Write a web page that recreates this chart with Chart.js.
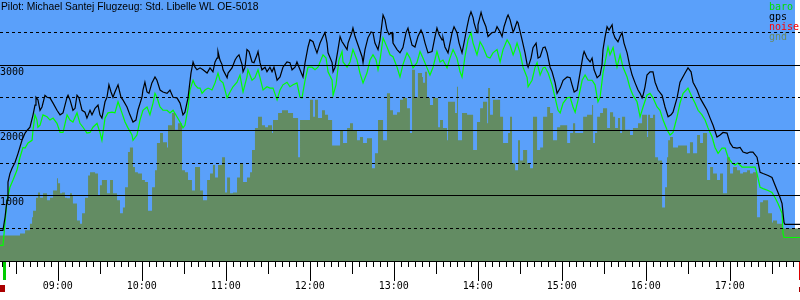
<!DOCTYPE html>
<html><head><meta charset="utf-8">
<script src="https://cdn.jsdelivr.net/npm/chart.js@4.4.1/dist/chart.umd.min.js"></script>
<style>html,body{margin:0;padding:0;background:#fff}#wrap{width:800px;height:300px}</style>
</head><body><div id="wrap"><canvas id="c" width="800" height="300"></canvas></div>
<script>
// ---- texts ----
const titleText = "Pilot: Michael Santej Flugzeug: Std. Libelle WL OE-5018";
const legendLabels = ["baro", "gps", "noise", "gnd"];
// ---- axes (time in minutes after midnight, altitude in m) ----
const timeStart = 498.8, timeEnd = 1070.2, skyEnd = 1066.7;
const hourTicks = [540, 600, 660, 720, 780, 840, 900, 960, 1020];
const altGrid = [0, 500, 1000, 1500, 2000, 2500, 3000, 3500, 4000];
const altLabels = [1000, 2000, 3000];
const logStart = 500.6, takeoff = 502.0, landing = 1070.2;

// ---- gps altitude ----
const gpsTime = [
498.8,500.9,502.4,503.8,504.5,505.9,507.4,509.5,511.7,514.5,
516.7,518.1,520.2,522.4,523.8,524.5,525.9,527.4,528.8,530.9,
532.4,534.5,536.7,539.5,541.7,543.8,546.7,547.4,548.8,550.9,
552.4,553.8,555.2,557.4,559.5,560.9,563.1,564.5,566.7,568.8,
570.2,571.6,573.8,575.2,576.6,578.1,579.5,580.9,583.1,585.2,
586.6,589.5,591.6,593.8,595.9,597.3,600.2,600.9,602.3,603.8,
605.2,607.3,609.5,610.9,613.1,615.2,618.1,620.2,622.4,625.2,
627.4,629.5,630.9,633.1,635.2,636.7,638.1,639.5,641.7,643.8,
646.7,648.8,650.9,652.4,653.8,654.5,655.9,657.4,658.1,661.0,
661.7,664.5,666.7,668.1,669.5,671.7,672.4,673.8,675.2,676.7,
678.8,680.2,682.4,683.1,684.5,685.9,688.1,689.5,691.6,693.1,
694.5,696.7,698.8,700.9,703.8,705.9,707.4,709.5,710.9,713.1,
715.2,716.7,718.8,720.2,722.4,723.8,725.2,727.4,729.5,730.9,
732.4,733.1,736.0,736.7,738.1,740.2,741.7,743.1,743.8,746.7,
747.4,750.2,750.9,752.4,754.5,757.4,758.1,759.5,761.6,763.8,
765.2,766.6,768.8,770.2,771.7,772.4,773.8,775.2,776.7,778.8,
779.5,782.4,784.5,786.6,788.8,790.2,791.6,793.1,795.2,797.3,
799.5,800.9,802.4,804.5,807.4,809.5,810.9,812.4,814.5,815.2,
816.6,818.8,821.7,823.1,825.2,826.7,828.8,830.2,832.4,833.8,
835.2,836.7,837.4,839.5,840.2,842.4,843.8,845.9,847.4,850.2,
852.4,853.8,856.0,857.4,858.8,861.0,861.7,863.1,865.3,866.0,
868.1,868.8,871.7,873.8,875.3,876.0,878.1,879.5,881.7,883.1,
884.6,886.7,888.1,889.6,891.7,893.1,895.3,896.7,898.9,901.0,
903.9,906.0,907.4,908.9,911.0,913.1,915.3,916.0,918.1,920.3,
921.7,923.1,925.3,927.4,928.8,929.5,931.0,932.4,933.8,936.0,
936.7,938.1,940.2,941.7,943.1,944.5,946.7,948.8,950.3,952.4,
954.5,956.0,957.4,958.1,959.5,960.9,963.1,965.2,966.7,968.8,
971.7,973.8,976.0,978.1,979.5,982.4,984.5,988.1,990.2,992.4,
993.8,996.7,998.8,1000.9,1003.8,1006.0,1008.1,1010.9,1013.1,1015.2,
1018.1,1020.2,1022.4,1025.2,1027.4,1029.5,1032.4,1034.5,1036.6,1039.5,
1041.7,1043.8,1047.4,1050.2,1052.4,1054.5,1056.0,1057.4,1058.1,1058.8,
1059.5,1070.2];
const gpsAlt = [
470,470,670,930,1210,1340,1420,1510,1650,1850,
1960,2000,2050,2240,2390,2510,2470,2310,2360,2540,
2510,2500,2420,2310,2240,2270,2510,2540,2470,2310,
2340,2540,2500,2310,2280,2190,2310,2240,2340,2390,
2240,2190,2440,2510,2700,2590,2510,2590,2700,2510,
2470,2360,2240,2130,2160,2310,2510,2620,2740,2590,
2570,2730,2820,2770,2620,2590,2570,2620,2510,2500,
2420,2240,2280,2500,2880,3050,2970,2930,2960,2930,
2880,2960,2900,3050,3110,3210,3080,3010,2930,2810,
2880,2960,3080,3130,3160,3010,2900,2970,3240,3210,
3050,3040,3160,3210,3040,2930,2970,2900,2970,2900,
2970,2770,2820,2970,3050,3040,2930,2970,3050,2930,
2820,3040,3280,3390,3360,3270,3190,3340,3440,3500,
3340,3190,3040,2900,2970,3240,3440,3360,3340,3240,
3340,3510,3570,3440,3310,3130,3040,3240,3420,3510,
3500,3340,3240,3390,3650,3770,3700,3540,3470,3500,
3340,3240,3190,3270,3500,3570,3440,3310,3280,3440,
3540,3470,3340,3190,3210,3440,3570,3470,3390,3420,
3280,3190,3500,3590,3500,3340,3190,3340,3590,3730,
3820,3730,3650,3500,3620,3810,3700,3590,3440,3500,
3510,3590,3510,3440,3590,3740,3770,3700,3510,3540,
3670,3650,3390,3190,3010,2970,3110,3270,3340,3110,
3130,3270,3280,3190,2970,2900,2730,2570,2650,2770,
2820,2810,2700,2590,2620,2880,3160,3210,3110,3050,
3110,2930,2810,2850,3010,3240,3440,3590,3540,3620,
3500,3420,3360,3440,3500,3340,3190,2970,2850,2730,
2620,2570,2500,2540,2670,2850,2900,2900,2740,2620,
2540,2360,2210,2240,2280,2500,2740,2880,2960,2900,
2740,2620,2500,2420,2310,2190,2080,1900,1930,1970,
1960,1810,1740,1730,1740,1670,1650,1670,1670,1590,
1360,1340,1310,1280,1160,1050,970,880,730,590,
560,560];

// ---- barometric altitude ----
const baroTime = [
498.8,500.9,501.7,503.8,505.9,508.1,510.9,513.1,515.2,516.7,
518.8,521.7,522.4,523.8,525.2,525.9,527.4,529.5,532.4,534.5,
536.7,539.5,541.7,543.8,546.7,548.8,550.9,553.8,555.9,558.1,
560.9,563.1,565.2,568.1,570.2,571.6,573.8,575.9,578.8,580.9,
583.1,585.9,588.1,590.2,593.1,593.8,596.6,598.8,600.9,603.8,
605.9,608.1,609.5,610.9,613.1,615.2,618.1,620.2,622.4,625.2,
627.4,629.5,630.9,633.1,634.5,636.7,638.1,640.2,641.7,643.1,
645.2,647.4,650.2,652.4,654.5,655.9,658.1,661.0,663.1,665.2,
668.1,670.2,672.4,675.2,675.9,678.8,680.9,683.1,684.5,686.7,
689.5,691.6,693.8,696.7,698.8,700.9,703.8,705.9,708.1,710.9,
713.1,714.5,716.7,718.8,721.7,723.8,725.9,729.5,731.7,733.1,
736.0,736.7,738.8,740.9,743.1,743.8,746.7,748.8,750.9,753.8,
755.9,758.1,760.9,763.1,765.2,767.4,768.8,770.2,772.4,775.2,
777.4,779.5,782.4,784.5,786.6,789.5,791.6,793.8,796.6,798.8,
800.9,803.8,805.9,808.1,810.9,813.1,815.2,818.1,820.2,822.4,
825.2,827.4,828.8,830.9,833.1,835.2,836.7,839.5,841.7,843.8,
846.7,848.8,850.9,853.8,856.0,858.1,861.0,863.1,865.3,866.7,
868.1,870.3,872.4,875.3,876.0,878.8,881.0,882.4,884.6,886.7,
888.1,890.3,893.1,895.3,897.4,898.9,901.0,903.9,906.0,908.1,
909.6,911.7,914.6,916.7,918.8,921.7,923.8,925.9,927.4,929.5,
931.0,933.1,934.5,936.7,939.5,941.7,943.8,946.7,948.8,950.9,
953.8,956.0,958.1,960.9,963.1,965.2,968.1,970.2,972.4,975.2,
977.4,979.5,982.4,984.5,986.7,990.2,993.1,995.2,997.4,1000.2,
1002.4,1004.5,1007.4,1009.5,1011.7,1014.5,1016.7,1018.8,1021.7,1023.8,
1025.9,1028.8,1034.5,1038.1,1039.5,1041.7,1043.8,1047.4,1050.2,1052.4,
1054.5,1057.4,1058.1,1058.8,1070.2];
const baroAlt = [
240,240,420,930,1130,1240,1390,1590,1740,1730,
1810,1850,2010,2240,2160,2050,2080,2240,2210,2160,
2190,2110,1970,1970,2240,2160,2130,2270,2110,2050,
1960,1970,2050,2110,1970,1850,2190,2270,2280,2270,
2440,2270,2130,2040,1930,1850,1930,2160,2310,2360,
2240,2420,2570,2510,2360,2310,2310,2270,2310,2210,
2130,2040,2080,2340,2620,2770,2700,2650,2650,2570,
2620,2650,2620,2730,2880,2770,2730,2500,2590,2670,
2740,2850,2590,2820,2930,2770,2810,2930,2810,2620,
2670,2650,2650,2470,2620,2700,2740,2670,2700,2730,
2510,2500,2770,2970,2970,2930,2970,3160,3110,2900,
2770,2540,2700,3080,3210,3050,2970,3050,3240,3080,
2880,2730,2880,3080,3160,3080,2930,3080,3420,3280,
3160,3130,2970,2820,3010,3190,3110,2960,3040,3210,
3110,2960,2850,2970,3210,3050,3080,2960,3110,3240,
3110,2900,2820,3130,3390,3500,3340,3160,3360,3280,
3130,3110,3190,3240,3050,3240,3390,3310,3160,3240,
3340,3190,2970,2810,2670,2770,2970,3040,2850,2960,
2970,2880,2700,2500,2310,2270,2420,2500,2510,2360,
2280,2470,2770,2850,2770,2770,2700,2440,2510,2880,
3050,3280,3160,3270,2970,3160,2970,2820,2650,2540,
2440,2210,2360,2540,2570,2500,2360,2310,2160,2010,
1930,1970,2210,2420,2570,2650,2510,2420,2310,2240,
2160,2040,1900,1740,1650,1730,1730,1590,1500,1470,
1500,1440,1440,1440,1340,1130,1110,1080,1050,970,
880,730,420,360,360];

// ---- ground elevation under the track (step values) ----
const gndTime = [
498.8,513.1,516.7,520.2,521.7,522.4,524.5,525.9,527.4,529.5,
532.4,534.5,536.7,539.5,540.2,541.7,543.1,545.2,546.7,548.8,
550.2,550.9,553.8,555.9,557.4,559.5,561.7,563.1,566.7,568.8,
570.2,571.6,575.2,577.4,579.5,582.4,584.5,586.6,588.1,590.2,
591.6,593.8,595.2,597.3,600.2,602.3,604.5,607.4,609.5,610.9,
613.1,615.2,618.1,618.8,621.7,623.8,625.9,628.8,630.9,633.1,
635.9,638.1,641.7,643.8,646.7,648.8,650.9,652.4,654.5,657.4,
659.5,661.0,663.1,665.2,668.1,670.2,672.4,675.2,677.4,678.8,
680.9,683.1,685.9,688.1,690.2,693.1,693.8,697.4,700.2,704.5,
708.1,711.7,713.1,720.2,722.4,723.8,725.9,728.8,730.9,733.1,
736.0,741.7,743.8,746.7,748.8,750.9,753.8,755.9,758.1,760.9,
764.5,766.6,768.8,772.4,775.2,777.4,779.5,782.4,784.5,786.6,
789.5,791.6,793.1,795.2,797.3,800.2,800.9,802.4,803.8,805.9,
808.1,811.7,813.1,815.2,818.1,818.8,823.8,825.2,825.9,828.8,
832.4,836.7,839.5,841.7,843.8,846.7,847.4,848.8,850.9,856.0,
858.1,861.7,863.1,864.5,866.7,868.8,870.2,872.4,875.3,877.4,
879.5,882.4,884.6,886.7,889.6,891.7,893.8,896.7,898.9,903.9,
906.0,908.1,909.6,915.3,918.1,921.7,922.4,923.8,925.3,927.4,
929.5,932.4,934.5,936.7,938.1,940.2,941.7,943.1,945.3,948.8,
950.9,954.5,957.4,960.9,961.7,963.1,965.2,966.7,968.8,971.7,
973.8,975.2,976.0,977.4,979.5,983.1,989.5,991.6,993.8,996.7,
998.8,1000.9,1003.8,1006.0,1008.1,1010.9,1013.1,1015.2,1018.1,1020.2,
1022.4,1025.2,1027.4,1029.5,1032.4,1034.5,1036.6,1039.5,1041.7,1043.8,
1047.4,1050.2,1050.9,1053.8,1057.4,1070.2];
const gndAlt = [
390,420,470,570,670,770,970,1050,970,1040,
930,970,1080,1270,1190,1040,1050,970,960,1040,
1010,880,620,570,730,970,1310,1360,1340,1010,
1160,1240,1040,1240,1040,930,730,820,1130,1670,
1740,1440,1360,1340,1240,1210,770,1130,1390,1810,
1960,1820,1740,2080,2270,2010,2110,1390,1360,1240,
1080,1440,1080,930,1240,1340,1470,1280,1470,1590,
1050,1280,1040,1050,1280,1500,1210,1280,1360,1700,
2040,2210,2080,2050,2080,1960,2160,2270,2310,2270,
2190,1590,2160,2470,2210,2470,2190,2310,2240,2160,
1770,2000,1810,2040,2110,2000,1850,1900,1810,1880,
1420,1650,2160,1850,2570,2310,2240,2280,2470,2500,
2340,1960,2930,2510,2880,2820,2730,2900,2500,2390,
2500,2050,2160,2040,1850,2440,2270,2670,1850,2270,
2240,1700,2130,2340,2440,2110,2650,2240,2470,2210,
1810,1960,2210,1500,1390,1850,1540,1700,1500,1420,
2210,1700,1740,2210,2360,2270,1850,2050,2080,1810,
1960,2110,1960,2210,2240,2390,1810,1960,2210,2270,
2340,2040,2280,2210,2040,2190,1960,2210,2010,1930,
2040,2110,2240,1900,2240,2190,2240,1590,1540,820,
1130,1590,1850,1900,1740,1770,1650,1820,1650,1930,
1810,1960,1240,1440,1340,1240,1340,1040,1590,1340,
1440,1390,1340,1360,1390,1340,1360,670,900,930,
730,590,620,570,500,500];

// ---- colours ----
const SKY = '#5aa0fa', GND = '#638c63', BARO = '#00ff00', GPS = '#000000';
const LEGEND_COLORS = ['#00e000', '#000000', '#ff0000', '#6a8a62'];

const toXY = (ts, vs) => ts.map((t, i) => ({x: t, y: vs[i]}));
const fmtTime = v => {
  const h = Math.floor(v / 60), m = Math.round(v - h * 60);
  return String(h).padStart(2, '0') + ':' + String(m).padStart(2, '0');
};
const noPad = s => { s.paddingTop = 0; s.paddingBottom = 0; s.paddingLeft = 0; s.paddingRight = 0; };

const skyPlugin = {
  id: 'sky',
  beforeDraw(chart) {
    const {ctx, chartArea: a, scales: {x}} = chart;
    ctx.save();
    ctx.fillStyle = SKY;
    const xr = Math.round(x.getPixelForValue(skyEnd));
    ctx.fillRect(a.left, a.top, xr - a.left, a.bottom - a.top);
    ctx.restore();
  }
};

const decoPlugin = {
  id: 'deco',
  afterDraw(chart) {
    const {ctx, chartArea: a, scales: {x}} = chart;
    ctx.save();
    // axis line
    ctx.strokeStyle = '#000'; ctx.lineWidth = 1;
    ctx.beginPath(); ctx.moveTo(0, a.bottom + 0.5); ctx.lineTo(chart.width, a.bottom + 0.5); ctx.stroke();
    // 5-minute ticks
    ctx.beginPath();
    for (let t = Math.ceil(timeStart / 5) * 5; t <= timeEnd; t += 5) {
      const px = Math.round(x.getPixelForValue(t)) + 0.5;
      const len = (t % 60 === 0) ? 19 : (t % 30 === 0 ? 12 : 5);
      ctx.moveTo(px, a.bottom + 1); ctx.lineTo(px, a.bottom + 1 + len);
    }
    ctx.stroke();
    // takeoff / landing markers
    const xo = x.getPixelForValue(takeoff), xl = x.getPixelForValue(landing), xs = x.getPixelForValue(logStart);
    ctx.fillStyle = '#00cc00'; ctx.fillRect(Math.round(xo - 1.5), a.bottom + 1, 3, 18);
    ctx.fillStyle = '#dd0000'; ctx.fillRect(Math.round(xl - 1.5), a.bottom + 1, 3, 18);
    ctx.fillStyle = '#aa0000';
    ctx.fillRect(Math.round(xs - 2.5), a.bottom + 24, 5, 7);
    ctx.fillRect(Math.round(xl - 1.5), a.bottom + 26, 3, 5);
    // title
    ctx.fillStyle = '#000';
    ctx.font = '10.3px "Liberation Sans", Arial, sans-serif';
    ctx.textBaseline = 'alphabetic'; ctx.textAlign = 'left';
    ctx.fillText(titleText, 1, 10);
    // legend
    ctx.font = '10px "DejaVu Sans Mono", monospace';
    legendLabels.forEach((l, i) => {
      ctx.fillStyle = LEGEND_COLORS[i];
      ctx.fillText(l, 769, 10 + i * 10);
    });
    ctx.restore();
  }
};

new Chart(document.getElementById('c'), {
  type: 'line',
  data: {
    datasets: [
      {label: 'gps', data: toXY(gpsTime, gpsAlt), borderColor: GPS, borderWidth: 1.2, pointRadius: 0, fill: false, tension: 0, order: 1},
      {label: 'baro', data: toXY(baroTime, baroAlt), borderColor: BARO, borderWidth: 1.2, pointRadius: 0, fill: false, tension: 0, order: 2},
      {label: 'gnd', data: toXY(gndTime, gndAlt), stepped: true, fill: 'origin', backgroundColor: GND, borderColor: GND, borderWidth: 0, pointRadius: 0, order: 3}
    ]
  },
  options: {
    responsive: false, animation: false, devicePixelRatio: 1,
    layout: {padding: 0},
    events: [],
    plugins: {legend: {display: false}, title: {display: false}, tooltip: {enabled: false}},
    scales: {
      x: {
        type: 'linear', min: timeStart, max: timeEnd,
        afterFit: s => { s.height = 39; noPad(s); },
        afterBuildTicks: s => { s.ticks = hourTicks.map(v => ({value: v})); },
        grid: {display: false, drawTicks: false},
        border: {display: false},
        ticks: {padding: 19, color: '#000', font: {family: '"DejaVu Sans Mono", monospace', size: 10},
          maxRotation: 0, minRotation: 0, autoSkip: false, callback: v => fmtTime(v)}
      },
      y: {
        type: 'linear', min: 0, max: 4000,
        afterFit: s => { s.width = 0; noPad(s); },
        afterBuildTicks: s => { s.ticks = altGrid.map(v => ({value: v})); },
        grid: {color: c => (c.tick && (c.tick.value === 0 || c.tick.value === 4000)) ? 'rgba(0,0,0,0)' : '#000',
          lineWidth: 1, drawTicks: false, z: 1},
        border: {display: false, dash: c => (c.tick && c.tick.value % 1000 === 500) ? [3, 3] : []},
        ticks: {mirror: true, padding: 0, labelOffset: 7, z: 1, color: '#000',
          font: {family: '"DejaVu Sans Mono", monospace', size: 10},
          callback: v => altLabels.includes(v) ? String(v) : ''}
      }
    }
  },
  plugins: [skyPlugin, decoPlugin]
});
</script>
</body></html>
